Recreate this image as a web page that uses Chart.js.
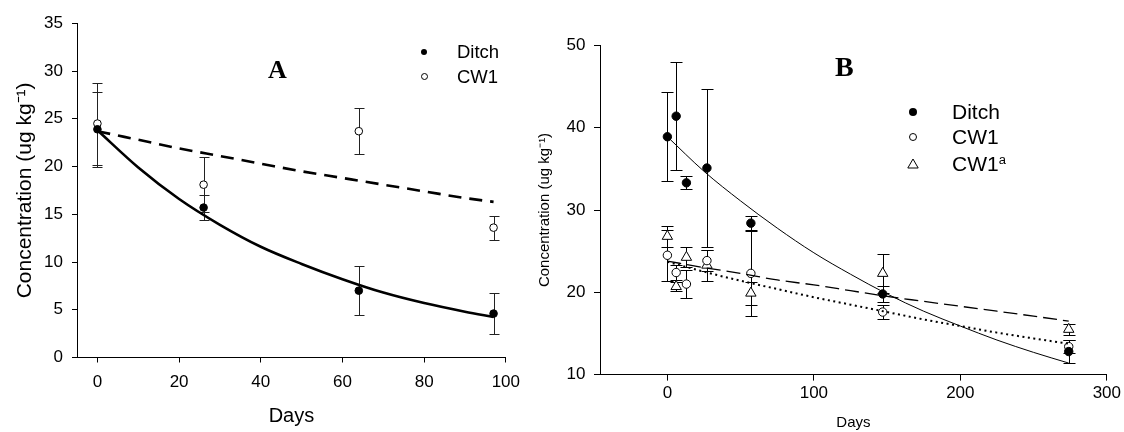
<!DOCTYPE html>
<html>
<head>
<meta charset="utf-8">
<script src="https://cdn.jsdelivr.net/npm/chart.js@4.4.1/dist/chart.umd.min.js"></script>
<style>
  html, body { margin:0; padding:0; background:#fff; }
  #wrap { position:relative; width:1124px; height:432px; overflow:hidden; font-family:"Liberation Sans", Arial, sans-serif; }
  canvas { position:absolute; top:0; }
  #cA { left:0; }
  #cB { left:530px; }
  .lbl { position:absolute; font-family:"Liberation Serif","Times New Roman",serif; font-weight:bold; line-height:1; color:#000; }
  .lt { position:absolute; line-height:1; color:#000; white-space:nowrap; }
  .dot { position:absolute; border-radius:50%; box-sizing:border-box; }
  sup { font-size:0.62em; vertical-align:0.55em; line-height:0; }
</style>
</head>
<body>
<div id="wrap">
  <canvas id="cA" width="530" height="432"></canvas>
  <canvas id="cB" width="594" height="432"></canvas>

  <div class="lbl" style="left:268px; top:57px; font-size:26px;">A</div>
  <div class="dot" style="left:421px; top:48.7px; width:6px; height:6px; background:#000;"></div>
  <div class="dot" style="left:420.5px; top:73.2px; width:7px; height:7px; background:#fff; border:1px solid #000;"></div>
  <div class="lt" style="left:457px; top:42.5px; font-size:18.5px;">Ditch</div>
  <div class="lt" style="left:457px; top:67.5px; font-size:18.5px;">CW1</div>

  <div class="lbl" style="left:835px; top:53px; font-size:28px;">B</div>
  <div class="dot" style="left:909px; top:107.7px; width:8px; height:8px; background:#000;"></div>
  <div class="dot" style="left:909px; top:132.7px; width:8px; height:8px; background:#fff; border:1px solid #000;"></div>
  <svg style="position:absolute; left:907px; top:158px;" width="12" height="11"><polygon points="6,1 11.2,10 0.8,10" fill="#fff" stroke="#000" stroke-width="1"/></svg>
  <div class="lt" style="left:952px; top:101px; font-size:21px;">Ditch</div>
  <div class="lt" style="left:952px; top:126px; font-size:21px;">CW1</div>
  <div class="lt" style="left:952px; top:153px; font-size:21px;">CW1<sup>a</sup></div>
</div>
<script>
// ---------- Panel A data ----------
const daysA = [0, 26, 64, 97];
const ditchA = [23.9, 15.7, 7.0, 4.6];
const ditchAErr = [3.9, 1.35, 2.6, 2.15];
const cw1A = [24.5, 18.1, 23.7, 13.6];
const cw1AErr = [4.3, 2.9, 2.4, 1.25];
const fitDaysA = [0, 10, 20, 30, 40, 50, 60, 70, 80, 90, 97];
const ditchFitA = [23.8, 19.9, 16.6, 13.9, 11.6, 9.8, 8.2, 6.8, 5.7, 4.8, 4.25];
const cw1FitA = [23.7, 22.8, 21.9, 21.1, 20.3, 19.5, 18.8, 18.1, 17.4, 16.7, 16.3];
const xTicksA = [0, 20, 40, 60, 80, 100];
const yTicksA = [0, 5, 10, 15, 20, 25, 30, 35];

// ---------- Panel B data ----------
const daysB = [0, 6, 13, 27, 57, 147, 274];
const ditchB = [38.9, 41.4, 33.3, 35.1, 28.4, 19.8, 12.8];
const ditchBErr = [5.4, 6.6, 0.8, 9.6, 0.85, 0.95, 1.35];
const cw1B = [24.5, 22.4, 21.0, 23.85, 22.3, 17.6, 13.4];
const cw1BErr = [3.1, 0.9, 1.7, 1.3, 5.2, 0.85, 0.8];
const cw1aB = [26.8, 20.7, 24.25, 23.3, 19.9, 22.3, 15.5];
const cw1aBErr = [1.3, 0.5, 1.2, 1.9, 1.4, 2.4, 0.65];
const fitDaysB = [0, 25, 50, 75, 100, 125, 150, 175, 200, 225, 250, 274];
const ditchFitB = [38.9, 34.7, 31.1, 27.8, 24.8, 22.2, 19.8, 17.7, 15.9, 14.2, 12.7, 11.4];
const cw1aFitB = [23.8, 23.0, 22.3, 21.5, 20.9, 20.2, 19.5, 18.9, 18.3, 17.7, 17.1, 16.5];
const cw1FitB = [23.7, 22.5, 21.4, 20.4, 19.4, 18.5, 17.6, 16.7, 15.9, 15.1, 14.4, 13.75];
const xTicksB = [0, 100, 200, 300];
const yTicksB = [10, 20, 30, 40, 50];

const pts = (xs, ys) => xs.map((x, i) => ({x: x, y: ys[i]}));

const errorBars = {
  id: 'errorBars',
  beforeDatasetsDraw(chart, args, opts) {
    const ctx = chart.ctx, xs = chart.scales.x, ys = chart.scales.y;
    ctx.save();
    ctx.strokeStyle = opts.color || '#000';
    ctx.lineWidth = 1;
    chart.data.datasets.forEach(ds => {
      if (!ds.errors) return;
      ds.data.forEach((p, i) => {
        const e = ds.errors[i];
        const px = Math.round(xs.getPixelForValue(p.x)) + 0.5;
        const y1 = Math.round(ys.getPixelForValue(p.y - e)) + 0.5;
        const y2 = Math.round(ys.getPixelForValue(p.y + e)) + 0.5;
        const c = opts.cap || 5;
        ctx.beginPath();
        ctx.moveTo(px, y1); ctx.lineTo(px, y2);
        ctx.moveTo(px - c, y1); ctx.lineTo(px + c, y1);
        ctx.moveTo(px - c, y2); ctx.lineTo(px + c, y2);
        ctx.stroke();
      });
    });
    ctx.restore();
  }
};

const sans = '"Liberation Sans", Arial, sans-serif';

function axisCommon(tickVals, tickLen, size, pad) {
  return {
    type: 'linear',
    afterBuildTicks: s => { s.ticks = tickVals.map(v => ({value: v})); },
    grid: { display: true, drawOnChartArea: false, drawTicks: true, tickLength: tickLen, color: '#000', lineWidth: 1 },
    border: { display: true, color: '#000', width: 1 },
    ticks: { color: '#000', font: { family: sans, size: size }, padding: pad, maxRotation: 0, autoSkip: false }
  };
}

// ---------- Chart A ----------
new Chart(document.getElementById('cA'), {
  type: 'scatter',
  data: {
    datasets: [
      { type: 'line', data: pts(fitDaysA, ditchFitA), borderColor: '#000', borderWidth: 2.6, pointRadius: 0, cubicInterpolationMode: 'monotone', fill: false },
      { type: 'line', data: pts(fitDaysA, cw1FitA), borderColor: '#000', borderWidth: 2.6, borderDash: [13, 8], pointRadius: 0, cubicInterpolationMode: 'monotone', fill: false },
      { label: 'Ditch', data: pts(daysA, ditchA), errors: ditchAErr, pointRadius: 3.8, backgroundColor: '#000', borderColor: '#000', borderWidth: 1 },
      { label: 'CW1', data: pts(daysA, cw1A), errors: cw1AErr, pointRadius: 3.8, backgroundColor: '#fff', borderColor: '#000', borderWidth: 1 }
    ]
  },
  options: {
    responsive: false, animation: false, devicePixelRatio: 1, events: [],
    layout: { padding: { left: 0, top: 23.3, right: 21, bottom: 0 } },
    plugins: { legend: { display: false }, tooltip: { enabled: false }, errorBars: { cap: 5, color: '#222' } },
    scales: {
      x: Object.assign(axisCommon(xTicksA, 5, 17, 10), {
        min: -5, max: 100,
        afterFit: s => { s.height = 74.5; },
        title: { display: true, text: 'Days', color: '#000', font: { family: sans, size: 20 }, padding: { top: 0, bottom: 4 } }
      }),
      y: Object.assign(axisCommon(yTicksA, 5, 17, 9), {
        min: 0, max: 35,
        afterFit: s => { s.width = 77; },
        title: { display: true, text: 'Concentration (ug kg\u207B\u00B9)', color: '#000', font: { family: sans, size: 21 }, padding: { top: 13, bottom: 0 } }
      })
    }
  },
  plugins: [errorBars]
});

// ---------- Chart B ----------
new Chart(document.getElementById('cB'), {
  type: 'scatter',
  data: {
    datasets: [
      { type: 'line', data: pts(fitDaysB, ditchFitB), borderColor: '#000', borderWidth: 1, pointRadius: 0, cubicInterpolationMode: 'monotone', fill: false },
      { type: 'line', data: pts(fitDaysB, cw1aFitB), borderColor: '#000', borderWidth: 1.3, borderDash: [14, 6], pointRadius: 0, cubicInterpolationMode: 'monotone', fill: false },
      { type: 'line', data: pts(fitDaysB, cw1FitB), borderColor: '#000', borderWidth: 2, borderDash: [2, 3.5], pointRadius: 0, cubicInterpolationMode: 'monotone', fill: false },
      { label: 'Ditch', data: pts(daysB, ditchB), errors: ditchBErr, pointRadius: 4.2, backgroundColor: '#000', borderColor: '#000', borderWidth: 1 },
      { label: 'CW1', data: pts(daysB, cw1B), errors: cw1BErr, pointRadius: 4.2, backgroundColor: '#fff', borderColor: '#000', borderWidth: 1 },
      { label: 'CW1a', data: pts(daysB, cw1aB), errors: cw1aBErr, pointStyle: 'triangle', pointRadius: 6, backgroundColor: '#fff', borderColor: '#000', borderWidth: 1 }
    ]
  },
  options: {
    responsive: false, animation: false, devicePixelRatio: 1, events: [],
    layout: { padding: { left: 0, top: 45.4, right: 17, bottom: 0 } },
    plugins: { legend: { display: false }, tooltip: { enabled: false }, errorBars: { cap: 6, color: '#000' } },
    scales: {
      x: Object.assign(axisCommon(xTicksB, 6, 17, 3), {
        min: -46, max: 300,
        afterFit: s => { s.height = 57.4; },
        title: { display: true, text: 'Days', color: '#000', font: { family: sans, size: 15 }, padding: { top: 0, bottom: 0 } }
      }),
      y: Object.assign(axisCommon(yTicksB, 6, 17, 8.5), {
        min: 10, max: 50,
        afterFit: s => { s.width = 70; },
        title: { display: true, text: 'Concentration (ug kg\u207B\u00B9)', color: '#000', font: { family: sans, size: 15 }, padding: { top: 6, bottom: 0 } }
      })
    }
  },
  plugins: [errorBars]
});
</script>
</body>
</html>
